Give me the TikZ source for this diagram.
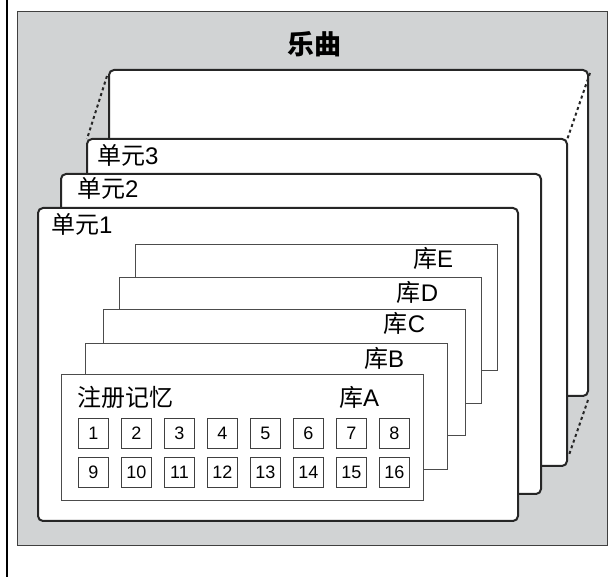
\documentclass[tikz,border=0pt]{standalone}
\usepackage{fontspec}
\setmainfont{Liberation Sans}
\newfontfamily\cjk{Noto Sans CJK SC}
\usetikzlibrary{calc}
\definecolor{bggray}{HTML}{D1D3D4}
\begin{document}
\begin{tikzpicture}[x=1pt,y=-1pt,
  framebox/.style={draw=black!75, line width=1.4pt, fill=bggray, inner sep=0pt, anchor=north west},
  unitbox/.style={draw=black!85, line width=2pt, fill=white, rounded corners=5pt, inner sep=0pt, anchor=north west, minimum width=480pt},
  bankbox/.style={draw=black!70, line width=1.3pt, fill=white, inner sep=0pt, anchor=north west, minimum width=362pt, minimum height=126pt},
  cellbox/.style={draw=black!75, line width=1pt, fill=white, minimum size=30pt, inner sep=0pt, anchor=north west, font=\fontsize{18}{18}\selectfont},
  lbl/.style={inner sep=0pt, font=\fontsize{24}{24}\selectfont},
  dotline/.style={line width=2pt, dash pattern=on 3pt off 3pt, draw=black!85}]
\useasboundingbox (0,0) rectangle (614,577);
\fill[white] (0,0) rectangle (614,577);
\draw[line width=2pt] (7,0) -- (7,577);
\node[framebox, minimum width=590pt, minimum height=534pt] (frame) at (17,11) {};
\node[inner sep=0pt, font=\cjk\bfseries\fontsize{27}{27}\selectfont] (title) at (314,44) {乐曲};
% units
\node[unitbox, minimum width=479pt, minimum height=326pt] (u4) at (108,69) {};
\node[unitbox, minimum height=327pt] (u3) at (86,138) {};
\node[unitbox, minimum height=320pt] (u2) at (60,173) {};
\node[unitbox, minimum height=313pt] (u1) at (37,207) {};
\draw[dotline] ($(u4.north west)+(-1,7)$) -- ($(u3.north west)+(1,1)$);
\draw[dotline] ($(u4.north east)+(1,4)$) -- ($(u3.north east)+(-1,2)$);
\draw[dotline] ($(u4.south east)+(-1,3)$) -- ($(u3.south east)+(1,-12)$);
\node[lbl, anchor=west] (l3) at (97,155) {{\cjk 单元}3};
\node[lbl, anchor=west] (l2) at (77,188) {{\cjk 单元}2};
\node[lbl, anchor=west] (l1) at (51,224) {{\cjk 单元}1};
% banks
\node[bankbox] (bE) at (135,244) {};
\node[lbl, anchor=east] (lE) at ($(bE.north east)+(-45,14)$) {{\cjk 库}E};
\node[bankbox] (bD) at (119,277) {};
\node[lbl, anchor=east] (lD) at ($(bD.north east)+(-44,15)$) {{\cjk 库}D};
\node[bankbox] (bC) at (103,309) {};
\node[lbl, anchor=east] (lC) at ($(bC.north east)+(-41,14)$) {{\cjk 库}C};
\node[bankbox] (bB) at (85,343) {};
\node[lbl, anchor=east] (lB) at ($(bB.north east)+(-44,15)$) {{\cjk 库}B};
\node[bankbox] (bA) at (61,374) {};
\node[lbl, anchor=east] (lA) at ($(bA.north east)+(-45,23)$) {{\cjk 库}A};
\node[lbl, anchor=west, font=\cjk\fontsize{24}{24}\selectfont] (reg) at (77,397) {注册记忆};
\foreach \i in {1,...,8} {
  \pgfmathtruncatemacro{\j}{\i+8}
  \node[cellbox] (c\i) at ({78+43*(\i-1)},418) {\raisebox{-1.5pt}{\i}};
  \node[cellbox] (c\j) at ({78+43*(\i-1)},457) {\raisebox{-1.5pt}{\j}};
}
\end{tikzpicture}
\end{document}
